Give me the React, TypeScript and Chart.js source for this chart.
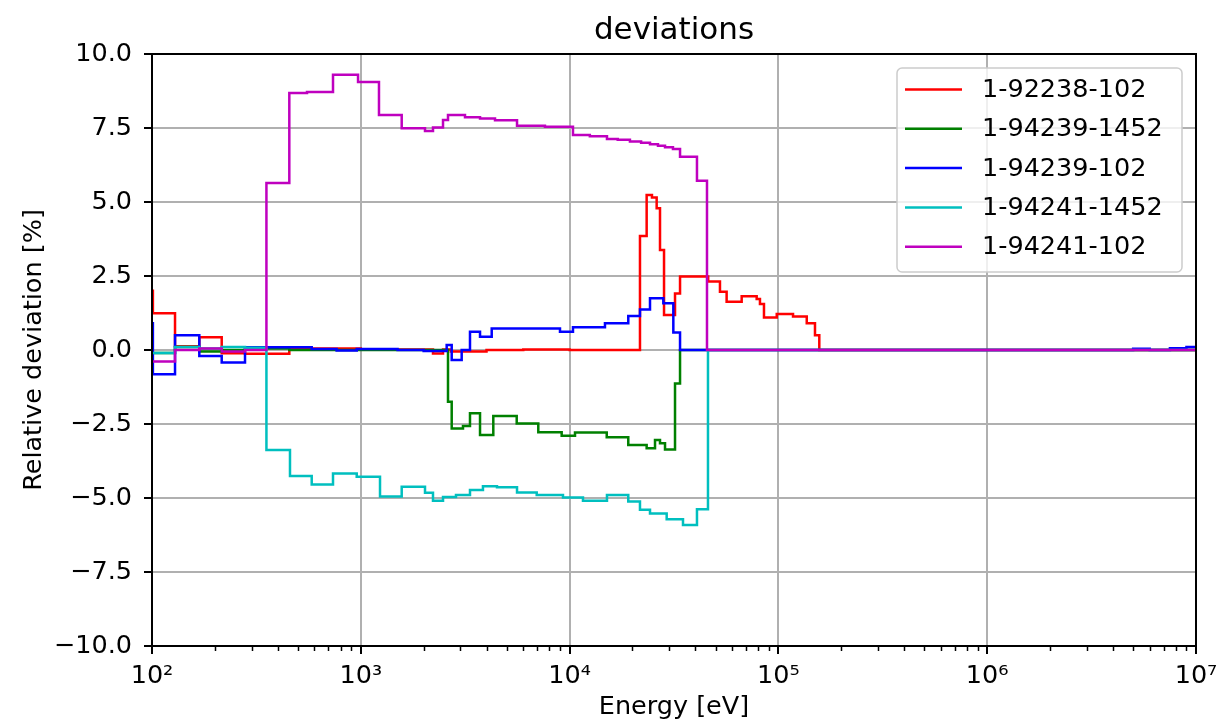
import React, { useEffect, useRef } from 'react';
import { Chart, registerables } from 'chart.js';

Chart.register(...registerables);

const FONT = '"DejaVu Sans", sans-serif';

const TITLE = 'deviations';
const X_LABEL = 'Energy [eV]';
const Y_LABEL = 'Relative deviation [%]';

const X_TICK_VALUES = [1e2, 1e3, 1e4, 1e5, 1e6, 1e7];
const X_TICK_LABELS = ['10²', '10³', '10⁴', '10⁵', '10⁶', '10⁷'];
const Y_TICK_VALUES = [-10, -7.5, -5, -2.5, 0, 2.5, 5, 7.5, 10];

const SERIES_NAMES = ['1-92238-102', '1-94239-1452', '1-94239-102', '1-94241-1452', '1-94241-102'];
const SERIES_COLORS = ['#ff0000', '#008000', '#0000ff', '#00bfbf', '#bf00bf'];

// 1-92238-102 (bin start energy [eV], deviation [%])
const E_92238_102 = [100, 101, 128.9, 168.5, 215.7, 278.9, 454.6, 1000, 2217, 2476, 2700, 4000, 6000, 10000,
  21730, 23390, 24800, 26120, 27100, 28330, 31980, 33800, 46100, 52500, 56500, 66700, 78700, 81600, 85300,
  98200, 117500, 136700, 149700, 157000, 1e7];
const D_92238_102 = [2.0, 1.24, 0.13, 0.43, -0.11, -0.13, 0.05, 0.02, -0.12, 0.02, -0.05, 0.0, 0.02, 0.0,
  3.85, 5.24, 5.15, 4.79, 3.38, 1.18, 1.91, 2.48, 2.31, 1.97, 1.63, 1.82, 1.72, 1.55, 1.1,
  1.22, 1.13, 0.9, 0.5, 0, 0];

// 1-94239-1452
const E_94239_1452 = [100, 128.9, 168.5, 215.7, 278.9, 454.6, 2616, 2725, 3086, 3334, 3724, 4311, 5581, 7080,
  9163, 10614, 15060, 19100, 23390, 25650, 27100, 28640, 31980, 33800, 1e7];
const D_94239_1452 = [-0.1, 0.1, -0.05, 0.0, 0.05, 0.0, -1.75, -2.65, -2.57, -2.14, -2.87, -2.23, -2.48, -2.78,
  -2.9, -2.79, -2.95, -3.21, -3.32, -3.04, -3.15, -3.36, -1.13, 0, 0];

// 1-94239-102
const E_94239_102 = [100, 101, 128.9, 168.5, 215.7, 278.9, 582, 766, 956, 1500, 2000, 2578, 2725, 3042, 3334,
  3724, 4236, 8995, 10380, 14770, 19100, 21730, 24270, 28110, 31390, 33800, 5.0e6, 6.0e6, 7.5e6, 9.0e6, 1e7];
const D_94239_102 = [0.9, -0.82, 0.5, -0.2, -0.42, 0.09, 0.03, -0.02, 0.03, 0.0, -0.03, 0.17, -0.34, 0.0, 0.62,
  0.45, 0.73, 0.62, 0.77, 0.9, 1.15, 1.37, 1.75, 1.58, 0.59, 0, 0.04, 0.0, 0.06, 0.1, 0.1];

// 1-94241-1452
const E_94241_1452 = [100, 128.9, 168.5, 215.7, 278.9, 353.2, 458, 582, 736, 956, 1236, 1570, 2030, 2217, 2476,
  2857, 3334, 3846, 4490, 5600, 6958, 9296, 11590, 15100, 19100, 21730, 24270, 29170, 34920, 40740, 46000, 1e7];
const D_94241_1452 = [-0.1, 0.1, 0.05, 0.1, 0.08, -3.38, -4.26, -4.54, -4.17, -4.28, -4.95, -4.62, -4.82, -5.09, -4.97,
  -4.9, -4.73, -4.6, -4.64, -4.81, -4.9, -4.98, -5.09, -4.9, -5.12, -5.4, -5.52, -5.72, -5.91, -5.38, 0, 0];

// 1-94241-102
const E_94241_102 = [100, 128.9, 168.5, 215.7, 278.9, 353.2, 454.6, 552.6, 736, 970, 1222, 1570, 2030, 2217, 2476,
  2616, 3155, 3724, 4393, 5600, 7620, 10380, 12500, 15100, 17000, 19450, 22000, 24270, 26500, 28640, 31260, 33800,
  40740, 45500, 1e7];
const D_94241_102 = [-0.39, 0.0, 0.05, -0.05, 0.0, 5.64, 8.68, 8.72, 9.3, 9.05, 7.94, 7.49, 7.4, 7.52, 7.77,
  7.94, 7.86, 7.82, 7.76, 7.58, 7.54, 7.26, 7.22, 7.13, 7.1, 7.04, 7.0, 6.95, 6.9, 6.85, 6.79, 6.53,
  5.72, 0, 0];

const SERIES_E = [E_92238_102, E_94239_1452, E_94239_102, E_94241_1452, E_94241_102];
const SERIES_D = [D_92238_102, D_94239_1452, D_94239_102, D_94241_1452, D_94241_102];

const decorPlugin = {
  id: 'decor',
  afterDatasetsDraw(chart: any) {
    const { ctx, chartArea: a, scales } = chart;
    const line = (x1: number, y1: number, x2: number, y2: number) => {
      ctx.beginPath();
      ctx.moveTo(x1, y1);
      ctx.lineTo(x2, y2);
      ctx.stroke();
    };
    ctx.save();
    ctx.strokeStyle = '#000';
    ctx.lineWidth = 2;
    for (const v of X_TICK_VALUES) {
      const px = Math.round(scales.x.getPixelForValue(v));
      line(px, a.bottom, px, a.bottom + 8);
    }
    ctx.lineWidth = 1.5;
    for (let i = 0; i < X_TICK_VALUES.length - 1; i++) {
      for (let m = 2; m <= 9; m++) {
        const px = Math.round(scales.x.getPixelForValue(m * X_TICK_VALUES[i])) + 0.5;
        line(px, a.bottom, px, a.bottom + 5);
      }
    }
    ctx.lineWidth = 2;
    for (const v of Y_TICK_VALUES) {
      const py = Math.round(scales.y.getPixelForValue(v));
      line(a.left - 8, py, a.left, py);
    }
    ctx.strokeRect(a.left, a.top, a.right - a.left, a.bottom - a.top);
    ctx.restore();
  },
  afterDraw(chart: any) {
    const { ctx, chartArea: a } = chart;
    ctx.save();
    ctx.fillStyle = '#000';
    ctx.font = `31px ${FONT}`;
    ctx.textAlign = 'center';
    ctx.textBaseline = 'alphabetic';
    ctx.fillText(TITLE, (a.left + a.right) / 2, 39);

    // legend
    const lx = 897, ly = 68, lw = 285, lh = 204;
    ctx.beginPath();
    ctx.roundRect(lx, ly, lw, lh, 5);
    ctx.fillStyle = 'rgba(255,255,255,0.8)';
    ctx.fill();
    ctx.strokeStyle = '#cccccc';
    ctx.lineWidth = 1.5;
    ctx.stroke();
    ctx.font = `25.5px ${FONT}`;
    ctx.textAlign = 'left';
    ctx.textBaseline = 'middle';
    chart.data.datasets.forEach((ds: any, i: number) => {
      const y = 89.5 + i * 39.3;
      ctx.strokeStyle = ds.borderColor;
      ctx.lineWidth = 2.5;
      ctx.beginPath();
      ctx.moveTo(905, y);
      ctx.lineTo(962, y);
      ctx.stroke();
      ctx.fillStyle = '#000';
      ctx.fillText(ds.label, 982, y + 1);
    });
    ctx.restore();
  },
};

export default function App() {
  const canvasRef = useRef<HTMLCanvasElement | null>(null);

  useEffect(() => {
    const canvas = canvasRef.current;
    if (!canvas) return;
    const datasets = SERIES_NAMES.map((name, i) => ({
      label: name,
      data: SERIES_E[i].map((e, k) => ({ x: e, y: SERIES_D[i][k] })),
      borderColor: SERIES_COLORS[i],
      backgroundColor: SERIES_COLORS[i],
      borderWidth: 2.5,
      pointRadius: 0,
      stepped: true,
      fill: false,
      order: SERIES_NAMES.length - i,
    }));

    const chart = new Chart(canvas, {
      type: 'line',
      data: { datasets },
      plugins: [decorPlugin],
      options: {
        animation: false,
        responsive: false,
        devicePixelRatio: 1,
        parsing: false,
        normalized: true,
        layout: { padding: { top: 54, right: 24, left: 0, bottom: 0 } },
        plugins: {
          legend: { display: false },
          title: { display: false },
          tooltip: { enabled: false },
        },
        scales: {
          x: {
            type: 'logarithmic',
            min: 100,
            max: 1e7,
            afterBuildTicks: (scale: any) => {
              scale.ticks = X_TICK_VALUES.map((v) => ({ value: v }));
            },
            afterFit: (scale: any) => {
              scale.height = 82;
              scale.paddingLeft = 0;
              scale.paddingRight = 0;
            },
            ticks: {
              autoSkip: false,
              maxRotation: 0,
              minRotation: 0,
              padding: 15,
              color: '#000',
              font: { family: FONT, size: 25.5 },
              callback: (_v: any, index: number) => X_TICK_LABELS[index],
            },
            grid: { color: '#b0b0b0', lineWidth: 2, drawTicks: false },
            border: { display: false },
            title: {
              display: true,
              text: X_LABEL,
              color: '#000',
              font: { family: FONT, size: 25.5 },
              padding: { top: 0, bottom: 5 },
            },
          },
          y: {
            type: 'linear',
            min: -10,
            max: 10,
            afterBuildTicks: (scale: any) => {
              scale.ticks = Y_TICK_VALUES.map((v) => ({ value: v }));
            },
            afterFit: (scale: any) => {
              scale.width = 152;
              scale.paddingTop = 0;
              scale.paddingBottom = 0;
            },
            ticks: {
              padding: 20,
              color: '#000',
              font: { family: FONT, size: 25.5 },
              callback: (v: any) => Number(v).toFixed(1).replace('-', '\u2212'),
            },
            grid: { color: '#b0b0b0', lineWidth: 2, drawTicks: false },
            border: { display: false },
            title: {
              display: true,
              text: Y_LABEL,
              color: '#000',
              font: { family: FONT, size: 25.5 },
              padding: { top: 19, bottom: 0 },
            },
          },
        },
      },
    } as any);
    return () => chart.destroy();
  }, []);

  return (
    <div style={{ position: 'fixed', left: 0, top: 0, width: 1220, height: 728, background: '#fff' }}>
      <canvas ref={canvasRef} width={1220} height={728} style={{ display: 'block' }} />
    </div>
  );
}
